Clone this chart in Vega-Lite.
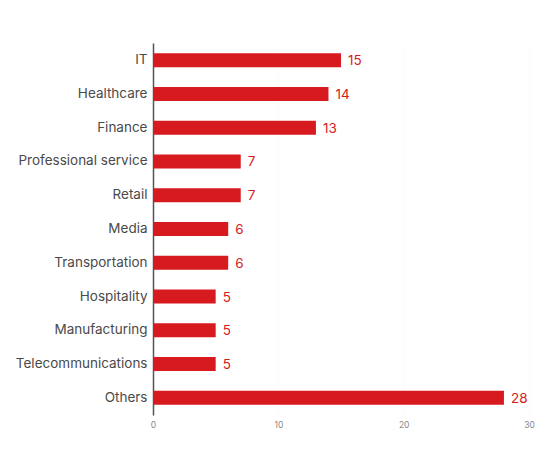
{
  "$schema": "https://vega.github.io/schema/vega-lite/v6.json",
  "width": 376,
  "height": 372,
  "autosize": {"type": "none"},
  "padding": {"left": 153, "top": 43, "right": 15, "bottom": 34},
  "background": "white",
  "config": {"view": {"stroke": null}, "font": "Inter"},
  "data": {"values": [
    {"sector": "IT", "value": 15},
    {"sector": "Healthcare", "value": 14},
    {"sector": "Finance", "value": 13},
    {"sector": "Professional service", "value": 7},
    {"sector": "Retail", "value": 7},
    {"sector": "Media", "value": 6},
    {"sector": "Transportation", "value": 6},
    {"sector": "Hospitality", "value": 5},
    {"sector": "Manufacturing", "value": 5},
    {"sector": "Telecommunications", "value": 5},
    {"sector": "Others", "value": 28}
  ]},
  "encoding": {
    "y": {"field": "sector", "type": "nominal", "sort": null,
      "scale": {"paddingInner": 0.58, "paddingOuter": 0.3},
      "axis": {"title": null, "ticks": false, "domainColor": "#555", "domainWidth": 1.5, "labelColor": "#4a4a4a", "labelFontSize": 13.5, "labelPadding": 6, "labelFont": "Inter", "labelLimit": 200}},
    "x": {"field": "value", "type": "quantitative",
      "scale": {"domain": [0, 30], "nice": false},
      "axis": {"title": null, "values": [0, 10, 20, 30], "domain": false, "ticks": false, "labelColor": "#888", "labelFontSize": 8.5, "labelPadding": 5, "grid": true, "gridColor": "#f0f0f0", "gridDash": [1, 3], "labelFlush": false}}
  },
  "layer": [
    {"mark": {"type": "bar", "color": "#d71920"}},
    {"mark": {"type": "text", "align": "left", "baseline": "middle", "dx": 7, "dy": 1, "fontSize": 13.5, "color": "#d71920", "font": "Inter"},
     "encoding": {"text": {"field": "value", "type": "quantitative"}}}
  ]
}
